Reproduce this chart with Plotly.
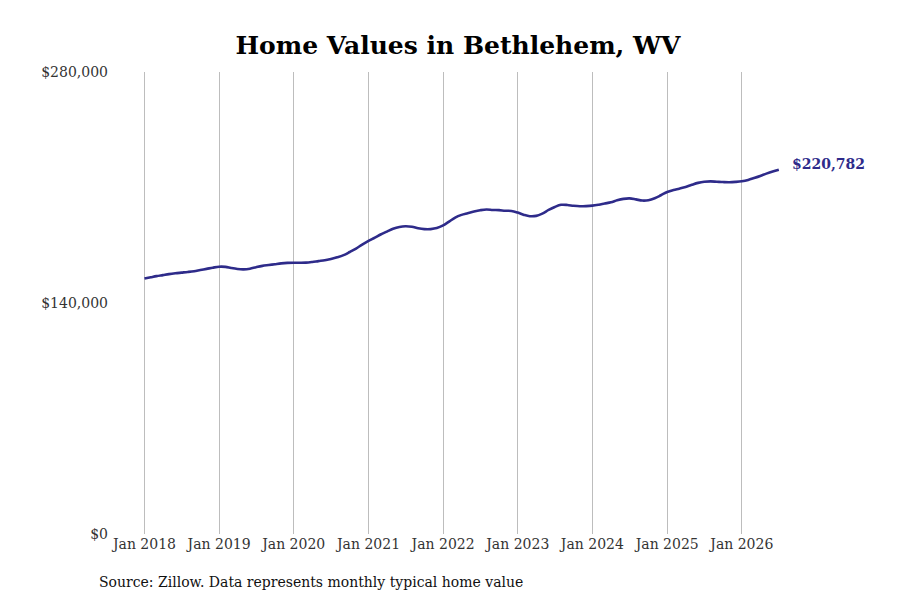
import pandas as pd
import plotly.graph_objects as go

# monthly typical home value (in $1,000s)
vals_2018 = [154.8, 155.6, 156.3, 156.9, 157.5, 158.0, 158.4, 158.8, 159.3, 160.0, 160.7, 161.4]
vals_2019 = [162.0, 161.9, 161.2, 160.6, 160.4, 160.8, 161.7, 162.5, 163.0, 163.5, 164.0, 164.3]
vals_2020 = [164.4, 164.4, 164.5, 164.9, 165.4, 165.9, 166.7, 167.7, 169.0, 170.9, 173.0, 175.4]
vals_2021 = [177.6, 179.6, 181.5, 183.3, 185.0, 186.1, 186.5, 186.2, 185.3, 184.8, 184.8, 185.4]
vals_2022 = [187.0, 189.5, 191.8, 193.4, 194.4, 195.4, 196.2, 196.7, 196.4, 196.3, 195.9, 195.8]
vals_2023 = [194.8, 193.4, 192.6, 192.8, 194.2, 196.4, 198.2, 199.5, 199.4, 198.9, 198.6, 198.7]
vals_2024 = [199.0, 199.6, 200.3, 201.0, 202.2, 203.1, 203.4, 202.8, 202.1, 202.3, 203.5, 205.3]
vals_2025 = [207.3, 208.5, 209.3, 210.3, 211.6, 212.8, 213.5, 213.7, 213.5, 213.3, 213.2, 213.4]
vals_2026 = [213.8, 214.6, 215.7, 217.0, 218.4, 219.7, 220.782]

values = [v * 1000 for v in vals_2018 + vals_2019 + vals_2020 + vals_2021 + vals_2022
          + vals_2023 + vals_2024 + vals_2025 + vals_2026]
dates = pd.date_range('2018-01-01', periods=len(values), freq='MS')

tick_vals = [0, 140000, 280000]
tick_text = ['$0', '$140,000', '$280,000']
year_ticks = pd.date_range('2018-01-01', '2026-01-01', freq='YS')

lineColor = '#2e2b8a'
serif = 'DejaVu Serif, serif'

fig = go.Figure()
fig.add_trace(go.Scatter(x=dates, y=values, mode='lines',
                         line=dict(color=lineColor, width=2.6, shape='spline'),
                         hoverinfo='skip'))

fig.add_annotation(x=dates[-1], y=values[-1], text='<b>$%s</b>' % format(round(values[-1]), ','),
                   showarrow=False, xanchor='left', xshift=11, yshift=6,
                   font=dict(family=serif, size=14, color=lineColor))

fig.add_annotation(x=0, y=0, xref='paper', yref='paper', xanchor='left', yanchor='top',
                   xshift=-17, yshift=-38, showarrow=False,
                   text='Source: Zillow. Data represents monthly typical home value',
                   font=dict(family=serif, size=14, color='#111111'))

fig.update_layout(
    width=900, height=600,
    margin=dict(l=106, r=38, t=64, b=74),
    plot_bgcolor='white', paper_bgcolor='white',
    showlegend=False,
    title=dict(text='<b>Home Values in Bethlehem, WV</b>', x=0.5, xanchor='center', y=0.953,
               font=dict(family='DejaVu Serif', size=25, color='black')),
    font=dict(family=serif, size=14, color='#333333'),
)
fig.update_xaxes(range=['2017-08-05', '2027-09-20'], tickvals=year_ticks,
                 ticktext=[d.strftime('Jan %Y') for d in year_ticks],
                 showgrid=True, gridcolor='#bdbdbd', gridwidth=1,
                 showline=False, zeroline=False, ticks='')
fig.update_yaxes(range=[0, 280000], tickvals=tick_vals, ticktext=tick_text,
                 showgrid=False, zeroline=False, showline=False, ticks='',
                 ticklabelstandoff=5)

fig.write_html('out.html')
